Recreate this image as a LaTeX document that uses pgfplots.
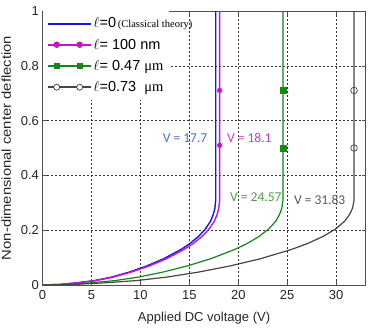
\documentclass[border=0pt]{standalone}
\usepackage{pgfplots}
\pgfplotsset{compat=1.18}
\usepackage{fontspec}
\setmainfont{Liberation Sans}
\newfontfamily\serif{Liberation Serif}
\newfontfamily\calib{Carlito}

\definecolor{cBlue}{RGB}{20,20,240}
\definecolor{cPurp}{RGB}{200,20,200}
\definecolor{cGreen}{RGB}{20,135,20}
\definecolor{cGray}{RGB}{70,70,70}
\definecolor{tBlue}{RGB}{70,115,200}
\definecolor{tPurp}{RGB}{200,60,200}
\definecolor{tGreen}{RGB}{70,165,60}
\definecolor{tGray}{RGB}{90,90,90}
\definecolor{frame}{RGB}{80,80,80}

% Deflection paths: stable branch up to pull-in, then the jump at the pull-in voltage
\pgfplotstableread{
V w
0 0
1.77 0.002
3.54 0.008
5.31 0.016
7.08 0.029
8.85 0.047
10.62 0.069
12.39 0.096
14.16 0.130
15.045 0.151
15.93 0.177
16.638 0.204
17.169 0.233
17.4345 0.256
17.6115 0.28
17.7 0.31
17.7 1.0
}\classical
\pgfplotstableread{
V w
0 0
1.81 0.002
3.62 0.008
5.43 0.016
7.24 0.029
9.05 0.047
10.86 0.069
12.67 0.096
14.48 0.130
15.385 0.151
16.29 0.177
17.014 0.204
17.557 0.233
17.8285 0.256
18.0095 0.28
18.1 0.31
18.1 1.0
}\lhundred
\pgfplotstableread{
V w
0 0
2.457 0.002
4.914 0.008
7.371 0.016
9.828 0.029
12.285 0.047
14.742 0.069
17.199 0.096
19.656 0.130
20.8845 0.151
22.113 0.177
23.0958 0.204
23.8329 0.233
24.2015 0.256
24.4472 0.28
24.57 0.31
24.57 1.0
}\lfortyseven
\pgfplotstableread{
V w
0 0
3.183 0.002
6.366 0.008
9.549 0.016
12.732 0.029
15.915 0.047
19.098 0.069
22.281 0.096
25.464 0.130
27.0555 0.151
28.647 0.177
29.9202 0.204
30.8751 0.233
31.3526 0.256
31.6709 0.28
31.83 0.31
31.83 1.0
}\lseventythree

\begin{document}
\begin{tikzpicture}
\begin{axis}[
  name=ax,
  scale only axis,
  width=323pt, height=274pt,
  xmin=0, xmax=33, ymin=0, ymax=1,
  xtick={0,5,...,30},
  ytick={0,0.2,...,1},
  /pgf/number format/assume math mode=true,
  tick label style={font=\fontsize{13}{13}\selectfont, text=black!85},
  xticklabel style={yshift=-2pt},
  axis line style={frame, line width=0.8pt},
  tick style={frame, line width=0.6pt},
  tick align=inside,
  major tick length=4pt,
  grid=major,
  major grid style={black!80, line width=0.6pt, dash pattern=on 2pt off 2pt},
  xlabel={Applied DC voltage (V)},
  ylabel={\scalebox{1.14}[1]{Non-dimensional center deflection}},
  label style={font=\fontsize{13}{13}\selectfont, text=black!85},
  xlabel style={yshift=-5pt},
  ylabel style={yshift=3pt},
  legend style={at={(0,1)}, anchor=north west, draw=none, fill=white,
    font=\fontsize{14.5}{14.5}\selectfont, row sep=5.6pt,
    inner xsep=4pt, inner ysep=4.5pt},
  legend cell align=left,
]
\addplot[cBlue, line width=1.4pt,
  legend image code/.code={\draw[cBlue, line width=2pt] (0pt,0pt) -- (43pt,0pt);}]
  table[x=V, y=w] {\classical};
\addlegendentry{$\ell$=0\rlap{\serif\fontsize{10.5}{10.5}\selectfont\,(Classical theory)}}

\addplot[cPurp, line width=1.4pt,
  legend image code/.code={\draw[cPurp, line width=2pt] (0pt,0pt) -- (43pt,0pt);
    \fill[cPurp] (9pt,0pt) circle (2.5pt) (32pt,0pt) circle (2.5pt);}]
  table[x=V, y=w] {\lhundred};
\addlegendentry{$\ell$= 100 nm}

\addplot[cGreen, line width=1.2pt,
  legend image code/.code={\draw[cGreen, line width=2pt] (0pt,0pt) -- (43pt,0pt);
    \fill[cGreen] (6.5pt,-2.7pt) rectangle (11.9pt,2.7pt) (29.5pt,-2.7pt) rectangle (34.9pt,2.7pt);}]
  table[x=V, y=w] {\lfortyseven};
\addlegendentry{$\ell$= 0.47 {\serif μm}}

\addplot[cGray, line width=1.2pt,
  legend image code/.code={\draw[cGray, line width=2pt] (0pt,0pt) -- (43pt,0pt);
    \draw[cGray, line width=0.8pt, fill=white] (9pt,0pt) circle (3pt) (32pt,0pt) circle (3pt);}]
  table[x=V, y=w] {\lseventythree};
\addlegendentry{$\ell$=0.73\ \ {\serif μm}}

% markers on the jump lines
\addplot[only marks, mark=*, mark size=2.4pt, cPurp, forget plot]
  coordinates {(18.1,0.51) (18.1,0.71)};
\addplot[only marks, mark=square*, mark size=2.8pt, cGreen, forget plot]
  coordinates {(24.57,0.50) (24.57,0.71)};
\addplot[only marks, mark=o, mark size=3.3pt, cGray, line width=0.7pt, forget plot]
  coordinates {(31.83,0.50) (31.83,0.71)};

% pull-in voltages
\node[font=\calib\fontsize{13.5}{13.5}\selectfont, text=tBlue, anchor=east]
  at (axis cs:17.2,0.537) {V = 17.7};
\node[font=\calib\fontsize{13.5}{13.5}\selectfont, text=tPurp, anchor=west]
  at (axis cs:18.5,0.537) {V = 18.1};
\node[font=\calib\fontsize{13.5}{13.5}\selectfont, text=tGreen]
  at (axis cs:21.8,0.321) {V = 24.57};
\node[font=\calib\fontsize{13.5}{13.5}\selectfont, text=tGray, anchor=east]
  at (axis cs:31.3,0.31) {V = 31.83};
\end{axis}
\pgfresetboundingbox
\path[use as bounding box] ([shift={(-42.5pt,-42pt)}]ax.south west) rectangle ([shift={(2.5pt,11pt)}]ax.north east);
\end{tikzpicture}
\end{document}
